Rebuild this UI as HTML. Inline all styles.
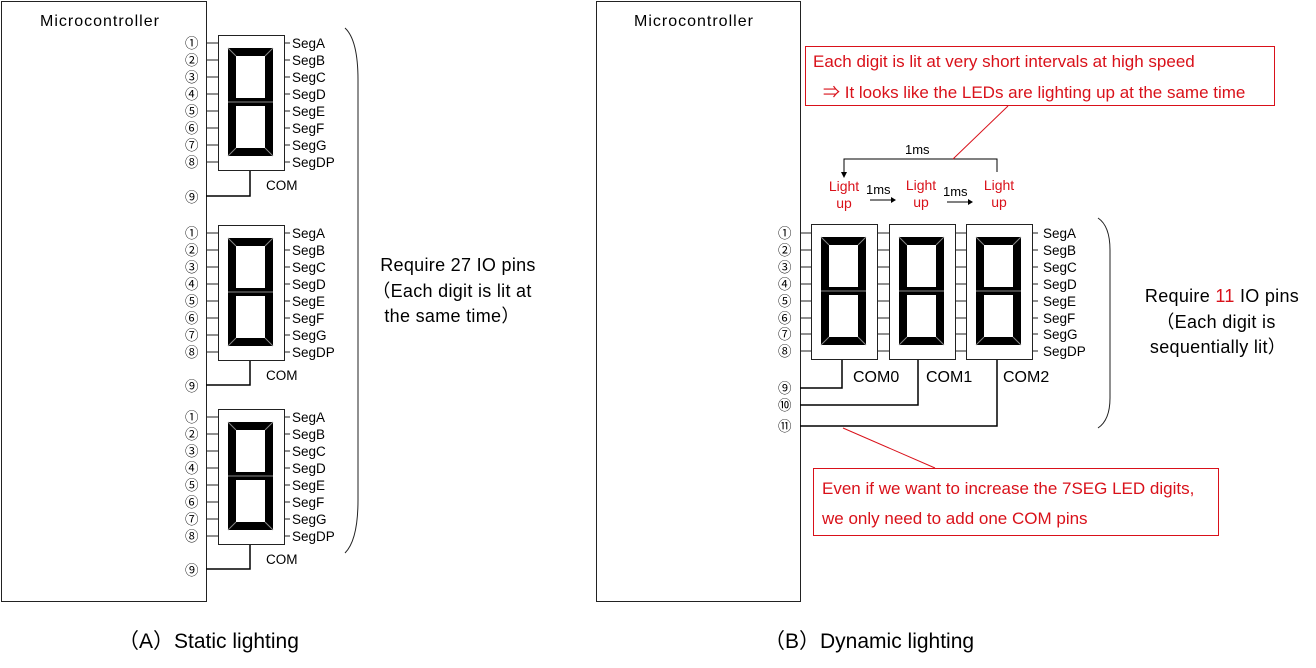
<!DOCTYPE html>
<html><head><meta charset="utf-8"><style>
html,body{margin:0;padding:0;background:#fff;}
svg{display:block;font-family:"Liberation Sans","Noto Sans CJK JP",sans-serif;}
.s{font-size:13.5px;}
.c{font-size:13.5px;font-family:"Noto Sans CJK JP","Liberation Sans",sans-serif;}
.r{fill:#d9111a;}
</style></head><body>
<svg width="1316" height="668" viewBox="0 0 1316 668" xmlns="http://www.w3.org/2000/svg">
<defs>
<g id="dg">
<rect x="0.5" y="0.5" width="66" height="135" fill="#fff" stroke="#222" stroke-width="1"/>
<rect x="10" y="13" width="45" height="108" fill="#000"/>
<polygon points="18,21 47,21 47,63 18,63" fill="#fff"/>
<polygon points="18,71 47,71 47,113 18,113" fill="#fff"/>
<g stroke="#888" stroke-width="1">
<line x1="10" y1="13" x2="18" y2="21"/><line x1="55" y1="13" x2="47" y2="21"/>
<line x1="10" y1="121" x2="18" y2="113"/><line x1="55" y1="121" x2="47" y2="113"/>
<line x1="10" y1="67" x2="55" y2="67"/>
</g>
</g>
<g id="pinsL" stroke="#222" stroke-width="1">
<line x1="206" y1="8" x2="218" y2="8"/><line x1="206" y1="25" x2="218" y2="25"/><line x1="206" y1="42" x2="218" y2="42"/><line x1="206" y1="59" x2="218" y2="59"/><line x1="206" y1="76" x2="218" y2="76"/><line x1="206" y1="93" x2="218" y2="93"/><line x1="206" y1="110" x2="218" y2="110"/><line x1="206" y1="127" x2="218" y2="127"/>
<line x1="284" y1="8" x2="290" y2="8"/><line x1="284" y1="25" x2="290" y2="25"/><line x1="284" y1="42" x2="290" y2="42"/><line x1="284" y1="59" x2="290" y2="59"/><line x1="284" y1="76" x2="290" y2="76"/><line x1="284" y1="93" x2="290" y2="93"/><line x1="284" y1="110" x2="290" y2="110"/><line x1="284" y1="127" x2="290" y2="127"/>
</g>
</defs>

<!-- Left -->
<rect x="1.5" y="1.5" width="205" height="600" fill="none" stroke="#222"/>
<text x="40" y="26" font-size="16" letter-spacing="1">Microcontroller</text>

<g>
<use href="#dg" x="218" y="35"/>
<use href="#pinsL" y="35"/>
<polyline points="250,171 250,196 206,196" fill="none" stroke="#000" stroke-width="1.5"/>
<g class="c"><text x="185" y="48">①</text><text x="185" y="65">②</text><text x="185" y="82">③</text><text x="185" y="99">④</text><text x="185" y="116">⑤</text><text x="185" y="133">⑥</text><text x="185" y="150">⑦</text><text x="185" y="167">⑧</text><text x="185" y="202">⑨</text></g>
<g class="s"><text x="292" y="48">SegA</text><text x="292" y="65">SegB</text><text x="292" y="82">SegC</text><text x="292" y="99">SegD</text><text x="292" y="116">SegE</text><text x="292" y="133">SegF</text><text x="292" y="150">SegG</text><text x="292" y="167">SegDP</text><text x="266" y="190">COM</text></g>
</g>
<g>
<use href="#dg" x="218" y="225"/>
<use href="#pinsL" y="225"/>
<polyline points="250,361 250,385 206,385" fill="none" stroke="#000" stroke-width="1.5"/>
<g class="c"><text x="185" y="238">①</text><text x="185" y="255">②</text><text x="185" y="272">③</text><text x="185" y="289">④</text><text x="185" y="306">⑤</text><text x="185" y="323">⑥</text><text x="185" y="340">⑦</text><text x="185" y="357">⑧</text><text x="185" y="391">⑨</text></g>
<g class="s"><text x="292" y="238">SegA</text><text x="292" y="255">SegB</text><text x="292" y="272">SegC</text><text x="292" y="289">SegD</text><text x="292" y="306">SegE</text><text x="292" y="323">SegF</text><text x="292" y="340">SegG</text><text x="292" y="357">SegDP</text><text x="266" y="380">COM</text></g>
</g>
<g>
<use href="#dg" x="218" y="409"/>
<use href="#pinsL" y="409"/>
<polyline points="250,545 250,569 206,569" fill="none" stroke="#000" stroke-width="1.5"/>
<g class="c"><text x="185" y="422">①</text><text x="185" y="439">②</text><text x="185" y="456">③</text><text x="185" y="473">④</text><text x="185" y="490">⑤</text><text x="185" y="507">⑥</text><text x="185" y="524">⑦</text><text x="185" y="541">⑧</text><text x="185" y="575">⑨</text></g>
<g class="s"><text x="292" y="422">SegA</text><text x="292" y="439">SegB</text><text x="292" y="456">SegC</text><text x="292" y="473">SegD</text><text x="292" y="490">SegE</text><text x="292" y="507">SegF</text><text x="292" y="524">SegG</text><text x="292" y="541">SegDP</text><text x="266" y="564">COM</text></g>
</g>
<path d="M345,28 Q358,40 358,80 L358,500 Q358,540 345,553" fill="none" stroke="#222"/>
<g font-size="18" text-anchor="middle" letter-spacing="0.3"><text x="458" y="271">Require 27 IO pins</text><text x="452" y="297">（Each digit is lit at</text><text x="452" y="322">the same time）</text></g>
<text x="118" y="648" font-size="21">（A）Static lighting</text>

<!-- Right -->
<rect x="596.5" y="1.5" width="204" height="600" fill="none" stroke="#222"/>
<text x="634" y="26" font-size="16" letter-spacing="1">Microcontroller</text>

<g stroke="#222" stroke-width="1">
<line x1="800" y1="233" x2="1038" y2="233"/><line x1="800" y1="250" x2="1038" y2="250"/><line x1="800" y1="267" x2="1038" y2="267"/><line x1="800" y1="284" x2="1038" y2="284"/><line x1="800" y1="301" x2="1038" y2="301"/><line x1="800" y1="318" x2="1038" y2="318"/><line x1="800" y1="334" x2="1038" y2="334"/><line x1="800" y1="351" x2="1038" y2="351"/>
</g>
<use href="#dg" x="811" y="224"/>
<use href="#dg" x="889" y="224"/>
<use href="#dg" x="966" y="224"/>
<g fill="none" stroke="#000" stroke-width="1.5">
<polyline points="842,360 842,388 800,388"/>
<polyline points="918,360 918,405 800,405"/>
<polyline points="997,360 997,426 800,426"/>
</g>
<g class="c"><text x="778" y="238">①</text><text x="778" y="255">②</text><text x="778" y="272">③</text><text x="778" y="289">④</text><text x="778" y="306">⑤</text><text x="778" y="323">⑥</text><text x="778" y="339">⑦</text><text x="778" y="356">⑧</text><text x="778" y="393">⑨</text><text x="778" y="410">⑩</text><text x="778" y="431">⑪</text></g>
<g class="s"><text x="1043" y="238">SegA</text><text x="1043" y="255">SegB</text><text x="1043" y="272">SegC</text><text x="1043" y="289">SegD</text><text x="1043" y="306">SegE</text><text x="1043" y="323">SegF</text><text x="1043" y="339">SegG</text><text x="1043" y="356">SegDP</text></g>
<g font-size="16"><text x="853" y="382">COM0</text><text x="926" y="382">COM1</text><text x="1003" y="382">COM2</text></g>

<g class="r" font-size="14" text-anchor="middle"><text x="844" y="191">Light</text><text x="844" y="208">up</text><text x="921" y="190">Light</text><text x="921" y="207">up</text><text x="999" y="190">Light</text><text x="999" y="207">up</text></g>
<g font-size="13"><text x="866" y="194">1ms</text><text x="943" y="196">1ms</text><text x="905" y="154">1ms</text></g>
<g stroke="#000" fill="none"><line x1="870" y1="200" x2="891" y2="200"/><line x1="947" y1="202" x2="968" y2="202"/><polyline points="997,172 997,159 844,159 844,173"/></g>
<polygon points="891,197 896,200 891,203" /><polygon points="968,199 973,202 968,205"/><polygon points="841,172 847,172 844,178"/>

<line x1="1008" y1="106" x2="953" y2="159" stroke="#d9111a"/>
<rect x="805.5" y="46.5" width="469" height="59" fill="#fff" stroke="#d9111a"/>
<g class="r" font-size="17"><text x="813" y="67">Each digit is lit at very short intervals at high speed</text><text x="823" y="98">⇒ It looks like the LEDs are lighting up at the same time</text></g>

<line x1="843" y1="428" x2="935" y2="468" stroke="#d9111a"/>
<rect x="813.5" y="468.5" width="405" height="67" fill="#fff" stroke="#d9111a"/>
<g class="r" font-size="17"><text x="822" y="494">Even if we want to increase the 7SEG LED digits,</text><text x="822" y="524">we only need to add one COM pins</text></g>

<path d="M1098,218 Q1110,226 1110,250 L1110,398 Q1110,420 1098,428" fill="none" stroke="#222"/>
<g font-size="18" text-anchor="middle" letter-spacing="0.3"><text x="1222" y="302">Require <tspan class="r">11</tspan> IO pins</text><text x="1216" y="328">（Each digit is</text><text x="1218" y="353">sequentially lit）</text></g>
<text x="764" y="648" font-size="21">（B）Dynamic lighting</text>
</svg>
</body></html>
